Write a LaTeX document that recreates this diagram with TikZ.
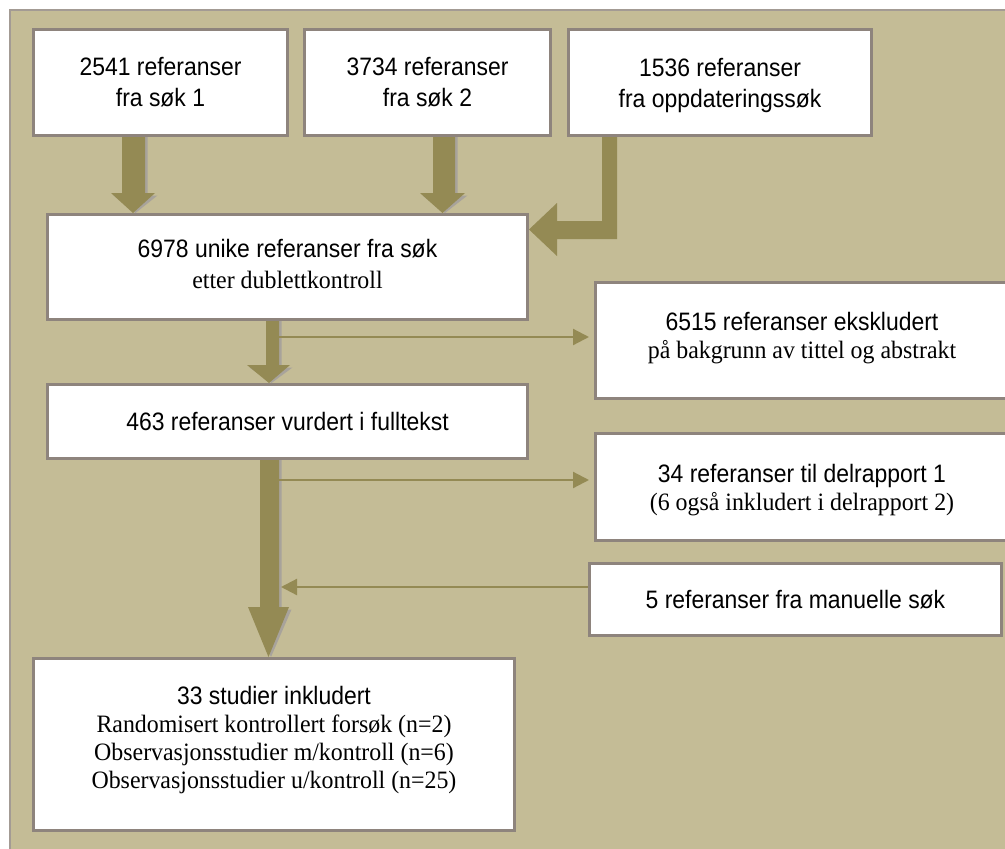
\documentclass[tikz,border=0pt]{standalone}
\usepackage{fontspec}
\setmainfont[FakeStretch=0.955]{Liberation Serif}
\newfontfamily\arialf[FakeStretch=0.91]{Liberation Sans}
\usetikzlibrary{arrows.meta,calc}
\definecolor{tanbg}{HTML}{C4BC96}
\definecolor{olivec}{HTML}{948A54}
\definecolor{boxgrey}{HTML}{8E847D}
\definecolor{framegrey}{HTML}{A39B94}
\definecolor{shadowc}{HTML}{A8A39B}
\newcommand\sansf{\arialf\fontsize{25.2}{28}\selectfont}
\newcommand\serf{\rmfamily\fontsize{25}{28}\selectfont}
\begin{document}
\begin{tikzpicture}[x=1pt,y=-1pt,
  box/.style={draw=boxgrey, line width=3pt, fill=white, align=center, inner sep=0pt, font=\sansf},
  thinarr/.style={draw=olivec, line width=2.2pt, -{Triangle[length=16pt,width=16pt]}},
  fatarr/.style={fill=olivec},
  shad/.style={fill=shadowc},
]
\useasboundingbox (0,0) rectangle (1005,849);
\fill[white] (0,0) rectangle (1005,849);
\fill[tanbg] (10,10) rectangle (1005,849);
\draw[framegrey, line width=2pt] (10,849) -- (10,10) -- (1005,10);

% boxes
\node[box, minimum width=254pt, minimum height=106pt] (b1) at (160.5,82.5) {2541 referanser\\[3pt]fra søk 1};
\node[box, minimum width=246pt, minimum height=106pt] (b2) at (427.5,82.5) {3734 referanser\\[3pt]fra søk 2};
\node[box, minimum width=303pt, minimum height=106pt, text depth=0pt] (b3) at (720,82.5) {1536 referanser\\[3pt]fra oppdateringssøk};
\node[box, minimum width=480pt, minimum height=105pt, text depth=6pt] (b4) at (287.5,267) {6978 unike referanser fra søk\\[3pt]{\serf etter dublettkontroll}};
\node[box, minimum width=480pt, minimum height=74pt] (b5) at (287.5,421.5) {463 referanser vurdert i fulltekst};
\node[box, minimum width=413pt, minimum height=116pt, text depth=11pt] (b6) at (802,340.5) {6515 referanser ekskludert\\{\serf på bakgrunn av tittel og abstrakt}};
\node[box, minimum width=413pt, minimum height=107pt, text depth=0pt] (b7) at (802,487) {34 referanser til delrapport 1\\{\serf (6 også inkludert i delrapport 2)}};
\node[box, minimum width=412pt, minimum height=72pt] (b8) at (795.5,599.5) {5 referanser fra manuelle søk};
\node[box, minimum width=481pt, minimum height=172pt, text depth=15pt] (b9) at (274,744.5) {33 studier inkludert\\{\serf Randomisert kontrollert forsøk (n=2)}\\{\serf Observasjonsstudier m/kontroll (n=6)}\\{\serf Observasjonsstudier u/kontroll (n=25)}};

% fat arrows: shadows
\begin{scope}[shift={(2.5,2.5)}]
\fill[shad] (122,0 |- b1.south) -- (145,0 |- b1.south) -- (145,193) -- (155,193) -- (133,0 |- b4.north) -- (111,193) -- (122,193) -- cycle;
\fill[shad] (433,0 |- b2.south) -- (455,0 |- b2.south) -- (455,193) -- (465,193) -- (442.5,0 |- b4.north) -- (420,193) -- (433,193) -- cycle;
\fill[shad] (266,0 |- b4.south) -- (279,0 |- b4.south) -- (279,365) -- (290,365) -- (269,0 |- b5.north) -- (247,365) -- (266,365) -- cycle;
\fill[shad] (260,0 |- b5.south) -- (279,0 |- b5.south) -- (279,607) -- (289,607) -- (268.5,0 |- b9.north) -- (248,607) -- (260,607) -- cycle;
\end{scope}
% fat arrows
\fill[fatarr] (122,0 |- b1.south) -- (145,0 |- b1.south) -- (145,193) -- (155,193) -- (133,0 |- b4.north) -- (111,193) -- (122,193) -- cycle;
\fill[fatarr] (433,0 |- b2.south) -- (455,0 |- b2.south) -- (455,193) -- (465,193) -- (442.5,0 |- b4.north) -- (420,193) -- (433,193) -- cycle;
\fill[fatarr] (602,0 |- b3.south) -- (617,0 |- b3.south) -- (617,239) -- (557,239) -- (557,256) -- (b4.east |- 0,229.5) -- (557,203) -- (557,221) -- (602,221) -- cycle;
\fill[fatarr] (266,0 |- b4.south) -- (279,0 |- b4.south) -- (279,365) -- (290,365) -- (269,0 |- b5.north) -- (247,365) -- (266,365) -- cycle;
\fill[fatarr] (260,0 |- b5.south) -- (279,0 |- b5.south) -- (279,607) -- (289,607) -- (268.5,0 |- b9.north) -- (248,607) -- (260,607) -- cycle;

% thin arrows
\coordinate (t1) at (279,337);
\coordinate (t2) at (279,480);
\coordinate (t3) at (281,587);
\draw[thinarr, shorten >=5pt] (t1) -- (t1 -| b6.west);
\draw[thinarr, shorten >=5pt] (t2) -- (t2 -| b7.west);
\draw[thinarr] (b8.west |- t3) -- (t3);
\end{tikzpicture}
\end{document}
